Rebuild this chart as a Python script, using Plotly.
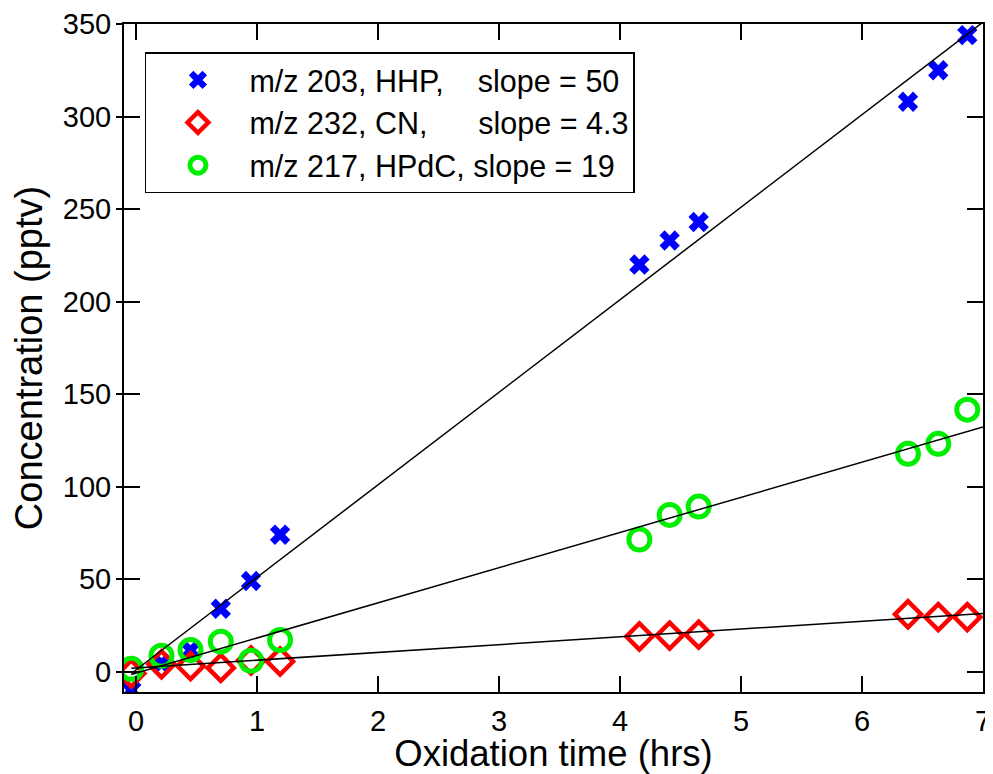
import plotly.graph_objects as go

# Tiempo de oxidacion (hrs) comun a las tres series
tiempo = [-0.04, 0.21, 0.45, 0.70, 0.95, 1.19, 4.16, 4.41, 4.65, 6.38, 6.63, 6.87]

hhp = [-10, 4.5, 11.5, 34, 49, 74, 220, 233, 243, 308, 325, 344]
cn = [-1, 4, 3, 2, 6, 5.5, 19, 19.5, 20, 31, 29.5, 29.5]
hpdc = [1.5, 8.6, 11.7, 16.2, 5.9, 17.1, 71.4, 84.7, 89.2, 117.7, 123.1, 141.6]

ESP = "\u00a0"
nombres = [
    "m/z 203, HHP," + ESP * 4 + "slope = 50",
    "m/z 232, CN," + ESP * 6 + "slope = 4.3",
    "m/z 217, HPdC, slope = 19",
]
# ajuste lineal de cada serie (pendiente, ordenada)
pendientes = [50.0, 4.2, 19.0]
ordenadas = [1.0, 2.0, -0.8]
x_fin = 7.0

FUENTE = "Liberation Sans, Arial, sans-serif"
TINTA = "#000000"

fig = go.Figure()

estilos = [
    dict(symbol="x", size=18, color="#0000ff", line=dict(width=0)),
    dict(symbol="diamond-open", size=20, color="#ff0000", line=dict(width=4.5, color="#ff0000")),
    dict(symbol="circle-open", size=21, color="#00ee00", line=dict(width=5, color="#00ee00")),
]
for nombre, serie, est in zip(nombres, [hhp, cn, hpdc], estilos):
    fig.add_trace(go.Scatter(x=tiempo, y=serie, mode="markers", name=nombre, marker=est))

# rectas de ajuste encima de los marcadores
for m, b in zip(pendientes, ordenadas):
    xs = [tiempo[0], x_fin]
    fig.add_trace(go.Scatter(x=xs, y=[m * v + b for v in xs], mode="lines",
                             line=dict(color=TINTA, width=1.5), showlegend=False,
                             hoverinfo="skip"))

ejes = dict(showgrid=False, zeroline=False, showline=True, linecolor=TINTA, linewidth=2,
            mirror="ticks", ticks="inside", ticklen=16, tickwidth=1.5, tickcolor=TINTA,
            automargin=False, ticklabelstandoff=5,
            tickfont=dict(family=FUENTE, size=29, color=TINTA))

# la pagina tiene 8 px de margen en el body: la figura se reduce para caber
fig.update_layout(
    width=985, height=766,
    paper_bgcolor="#ffffff", plot_bgcolor="#ffffff",
    margin=dict(l=116, r=10, t=16, b=82),
    font=dict(family=FUENTE, color=TINTA),
    xaxis=dict(ejes, range=[-0.1, 7.0], tickvals=list(range(0, 8)), ticklabelstandoff=2,
               title=dict(text="Oxidation time (hrs)", font=dict(size=36.5), standoff=3)),
    yaxis=dict(ejes, range=[-11, 350], tickvals=list(range(0, 351, 50)),
               title=dict(text="Concentration (pptv)", font=dict(size=38), standoff=13)),
    yaxis2=dict(overlaying="y", anchor="x", side="left", range=[-11, 350],
                tickvals=list(range(0, 351, 50)), ticks="outside", ticklen=7,
                tickwidth=1.5, tickcolor=TINTA, showticklabels=False, showline=False,
                showgrid=False, zeroline=False, automargin=False),
    legend=dict(x=0.0244, y=0.958, xanchor="left", yanchor="top",
                bgcolor="#ffffff", bordercolor=TINTA, borderwidth=1.5,
                font=dict(family=FUENTE, size=30.5, color=TINTA),
                itemwidth=93, tracegroupgap=0),
    showlegend=True,
)
# traza invisible para que se dibuje el eje secundario
fig.add_trace(go.Scatter(x=[None], y=[None], yaxis="y2", showlegend=False, hoverinfo="skip"))

fig.write_html("out.html")
